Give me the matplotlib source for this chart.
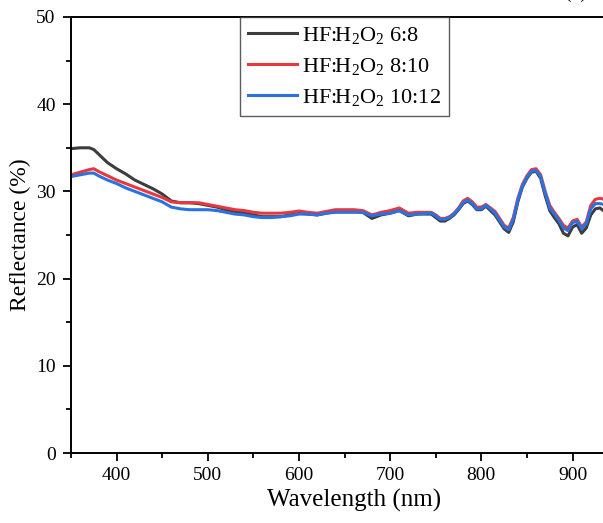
import matplotlib
matplotlib.use("Agg")
import matplotlib.pyplot as plt
from matplotlib.ticker import MultipleLocator

plt.rcParams['font.family'] = ['Liberation Serif', 'DejaVu Serif']
plt.rcParams['mathtext.default'] = 'regular'

wavelength = [350, 360, 370, 375, 380,
              390, 400, 410, 420, 430, 440, 450, 460, 470, 480, 490, 500,
              510, 520, 530, 540, 550, 560, 570, 580, 590, 600, 610, 620,
              630, 640, 650, 660, 670, 680, 690, 700, 710, 720, 730, 740,
              745, 750, 755, 760, 765, 770, 775, 780, 785, 790,
              795, 800, 805, 810, 815, 820, 825, 830, 835, 840,
              845, 850, 855, 860, 865, 870, 875, 880, 885, 890,
              895, 900, 905, 910, 915, 920, 925, 930, 935, 940]

r_6_8 = [34.9, 35.0, 35.0, 34.8, 34.3,
         33.3, 32.6, 32.0, 31.3, 30.8, 30.3, 29.7, 28.9, 28.7, 28.7, 28.6, 28.4,
         28.2, 27.9, 27.7, 27.5, 27.3, 27.1, 27.1, 27.1, 27.3, 27.5, 27.4, 27.3,
         27.5, 27.7, 27.7, 27.7, 27.6, 26.9, 27.3, 27.5, 27.8, 27.2, 27.4, 27.4,
         27.4, 27.0, 26.6, 26.6, 26.9, 27.3, 27.9, 28.6, 28.9, 28.5,
         27.9, 27.9, 28.3, 27.8, 27.3, 26.5, 25.7, 25.3, 26.5, 28.8,
         30.5, 31.5, 32.2, 32.3, 31.5, 29.5, 27.8, 27.0, 26.3, 25.2,
         24.9, 25.9, 26.2, 25.2, 25.8, 27.3, 28.0, 28.1, 27.7, 26.9]

r_8_10 = [31.9, 32.2, 32.5, 32.6, 32.3,
          31.8, 31.3, 30.9, 30.5, 30.1, 29.7, 29.3, 28.8, 28.7, 28.7, 28.7, 28.5,
          28.3, 28.1, 27.9, 27.8, 27.6, 27.5, 27.5, 27.5, 27.6, 27.75, 27.6, 27.5,
          27.7, 27.9, 27.9, 27.9, 27.8, 27.3, 27.6, 27.8, 28.1, 27.5, 27.6, 27.6,
          27.6, 27.3, 26.9, 26.9, 27.1, 27.5, 28.1, 28.9, 29.2, 28.8,
          28.2, 28.2, 28.5, 28.1, 27.7, 26.9, 26.1, 25.8, 27.0, 29.2,
          30.8, 31.8, 32.5, 32.6, 31.9, 30.0, 28.4, 27.6, 26.9, 26.1,
          25.8, 26.6, 26.8, 25.9, 26.5, 28.4, 29.1, 29.2, 29.1, 28.7]

r_10_12 = [31.7, 31.9, 32.1, 32.1, 31.8,
           31.3, 30.9, 30.4, 30.0, 29.6, 29.2, 28.8, 28.2, 28.0, 27.9, 27.9, 27.9,
           27.8, 27.6, 27.4, 27.3, 27.1, 27.0, 27.0, 27.1, 27.2, 27.4, 27.4, 27.3,
           27.5, 27.6, 27.6, 27.6, 27.6, 27.2, 27.4, 27.5, 27.8, 27.3, 27.4, 27.5,
           27.5, 27.2, 26.8, 26.8, 27.0, 27.4, 28.0, 28.7, 29.0, 28.6,
           28.0, 28.0, 28.4, 28.0, 27.5, 26.7, 25.9, 25.6, 26.8, 29.0,
           30.6, 31.6, 32.3, 32.4, 31.7, 29.8, 28.1, 27.4, 26.7, 25.8,
           25.5, 26.4, 26.6, 25.7, 26.3, 28.0, 28.6, 28.6, 28.5, 28.1]

labels = ['HF:H$_2$O$_2$ 6:8', 'HF:H$_2$O$_2$ 8:10', 'HF:H$_2$O$_2$ 10:12']
colors = ['#3d3d3d', '#e8383d', '#2a72e0']

fig = plt.figure(figsize=(6.03, 5.23), dpi=100)
ax = fig.add_axes([71 / 603, 1 - 453 / 523, 1 - 71 / 603 + 0.01, (453 - 17) / 523])

for y, lab, c in zip([r_6_8, r_8_10, r_10_12], labels, colors):
    ax.plot(wavelength, y, color=c, lw=2.2, label=lab)

ax.set_xlim(350, 940)
ax.set_ylim(0, 50)
ax.xaxis.set_major_locator(MultipleLocator(100))
ax.xaxis.set_minor_locator(MultipleLocator(50))
ax.yaxis.set_major_locator(MultipleLocator(10))
ax.yaxis.set_minor_locator(MultipleLocator(5))
ax.tick_params(which='major', direction='out', length=6, width=1.3, labelsize=14)
ax.tick_params(which='minor', direction='out', length=3.5, width=1.3)
ax.tick_params(axis='x', pad=4)
ax.tick_params(axis='y', pad=5)
ax.spines['right'].set_visible(False)
for s in ['left', 'bottom', 'top']:
    ax.spines[s].set_linewidth(1.4)

ax.set_xlabel('Wavelength (nm)', fontsize=18)
ax.xaxis.set_label_coords(0.526, -0.083)
ax.set_ylabel('Reflectance (%)', fontsize=17, labelpad=4)

leg = ax.legend(loc='upper left', bbox_to_anchor=((240 - 71) / 538, 1.0),
                fontsize=16, frameon=True, fancybox=False, edgecolor='#333333',
                handlelength=2.2, handletextpad=0.25, borderaxespad=0,
                labelspacing=0.45, borderpad=0.35)
leg.get_frame().set_linewidth(1.0)

fig.text(0.955, 1.004, '(b)', fontsize=14, va='baseline', ha='center')

fig.savefig('out.png', dpi=100)
